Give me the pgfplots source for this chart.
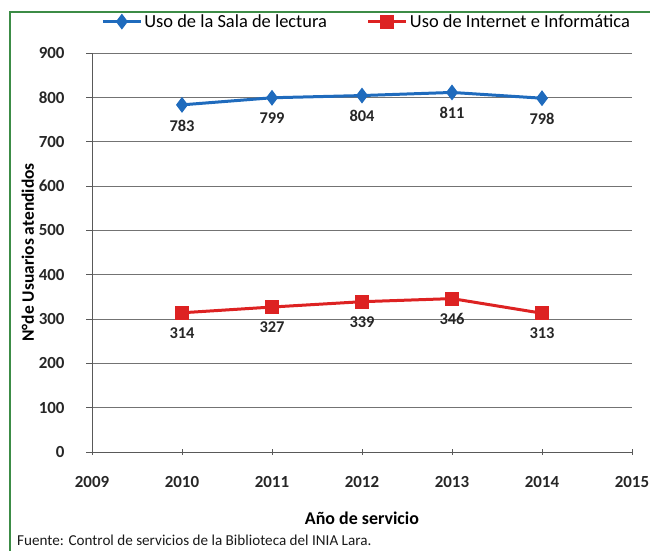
\documentclass[border=0pt]{standalone}
\usepackage{pgfplots}
\pgfplotsset{compat=1.18}
\usepackage{fontspec}
\setmainfont{Carlito}
\definecolor{serblue}{RGB}{31,107,189}
\definecolor{serred}{RGB}{221,34,34}
\definecolor{framegreen}{RGB}{60,140,70}
\begin{document}
\begin{tikzpicture}[x=1bp,y=1bp]
\useasboundingbox (0,0) rectangle (650,551);
\draw[framegreen, line width=1.2bp] (10,0) -- (10,539) -- (650,539);
\begin{axis}[
  at={(92bp,99bp)}, anchor=south west,
  scale only axis, width=540bp, height=399bp,
  xmin=2009, xmax=2015, ymin=0, ymax=900,
  xtick={2009,...,2015}, ytick={0,100,...,900},
  axis lines*=left,
  axis line style={black!65, line width=0.9bp},
  ymajorgrids, grid style={black!55, line width=0.8bp},
  xtick align=center, ytick align=outside,
  major tick length=6bp,
  tick style={black!65, line width=0.8bp},
  /pgf/number format/1000 sep={},
  /pgf/number format/assume math mode=true,
  ticklabel style={font=\bfseries\fontsize{17}{19}\selectfont, text=black!85},
  xticklabel style={yshift=-18bp},
  yticklabel style={xshift=-18bp},
  xlabel={Año de servicio},
  xlabel style={font=\bfseries\fontsize{18}{20}\selectfont, yshift=-17bp},
  ylabel={N°de Usuarios atendidos},
  ylabel style={font=\bfseries\fontsize{17.5}{20}\selectfont, yshift=-2bp},
  legend columns=2,
  legend style={at={(axis description cs:1,1)}, anchor=south east, yshift=20bp,
    draw=none, fill=none, font=\fontsize{18.5}{20}\selectfont, inner xsep=0pt,
    /tikz/every even column/.append style={column sep=38bp}},
  legend image code/.code={
    \draw[#1, mark repeat=2, mark phase=2] plot coordinates {(0bp,0bp) (19bp,0bp) (38bp,0bp)};},
  nodes near coords,
  every node near coord/.append style={font=\bfseries\fontsize{16.5}{18}\selectfont, text=black!85, anchor=north, yshift=-10bp},
]
\addplot[serblue, line width=3bp, mark=diamond*, mark size=5.5bp, mark options={solid, fill=serblue}]
  coordinates {(2010,783) (2011,799) (2012,804) (2013,811) (2014,798)};
\addlegendentry{Uso de la Sala de lectura}
\addplot[serred, line width=3bp, mark=square*, mark size=5.5bp, mark options={solid, fill=serred}]
  coordinates {(2010,314) (2011,327) (2012,339) (2013,346) (2014,313)};
\addlegendentry{Uso de Internet e Informática}
\end{axis}
\node[anchor=base west, font=\fontsize{15.2}{18}\selectfont, text=black!90, inner sep=0] at (17,5) {Fuente: Control de servicios de la Biblioteca del INIA Lara.};
\end{tikzpicture}
\end{document}
